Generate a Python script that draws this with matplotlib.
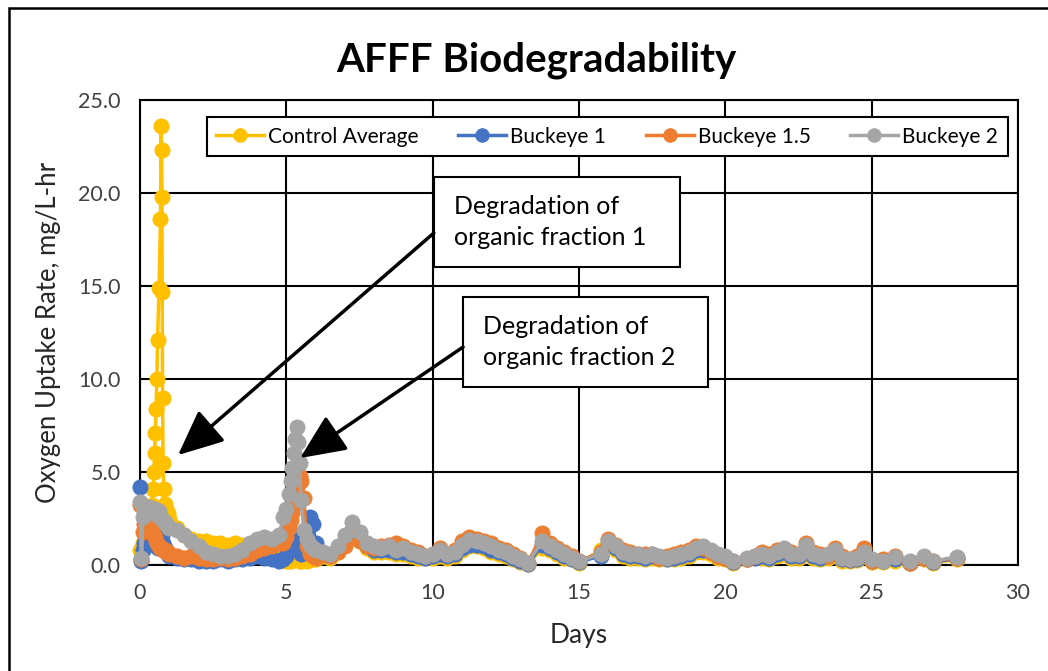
import matplotlib
matplotlib.use("Agg")
import matplotlib.pyplot as plt
from matplotlib.patches import Rectangle
from matplotlib.ticker import FuncFormatter

plt.rcParams['font.family'] = ['Lato', 'DejaVu Sans']

# ---------------- data ----------------
# sampling times (days) shared by the Buckeye series
days_early = [0, 0.05, 0.1, 0.15, 0.2, 0.25, 0.3, 0.35, 0.4, 0.45, 0.5,
              0.55, 0.6, 0.65, 0.7, 0.75, 0.8, 0.85, 0.9, 0.95, 1.0]
days_main = [1.25, 1.5, 1.75, 2.0, 2.25, 2.5, 2.75, 3.0, 3.25, 3.5, 3.75, 4.0, 4.25, 4.5, 4.75,
             4.9, 5.0, 5.1, 5.15, 5.2, 5.25, 5.3, 5.35, 5.4, 5.45, 5.5, 5.6, 5.7, 5.8, 5.9, 6.0,
             6.25, 6.5, 6.75, 7.0, 7.25, 7.5, 7.75, 8.0, 8.25, 8.5, 8.75, 9.0, 9.25, 9.5, 9.75, 10.0,
             10.25, 10.5, 10.75, 11.0, 11.25, 11.5, 11.75, 12.0, 12.25, 12.5, 12.75, 13.0, 13.25,
             13.75, 14.0, 14.25, 14.5, 14.75, 15.0,
             15.75, 16.0, 16.25, 16.5, 16.75, 17.0, 17.25, 17.5, 17.75, 18.0, 18.25, 18.5, 18.75,
             19.0, 19.25, 19.5, 19.75, 20.0, 20.25,
             20.75, 21.0, 21.25, 21.5, 21.75, 22.0, 22.25, 22.5, 22.75, 23.0, 23.25, 23.5, 23.75,
             24.0, 24.25, 24.5, 24.75, 25.0,
             25.4, 25.8, 26.3, 26.8, 27.1, 27.9]

# Control average is sampled more densely during its first-day spike
control_days_early = [0, 0.1, 0.2, 0.3, 0.4, 0.45, 0.475, 0.5, 0.525, 0.55, 0.575, 0.6, 0.65,
                      0.7, 0.72, 0.735, 0.75, 0.76, 0.77, 0.79, 0.81, 0.85, 0.9, 0.95, 1.0]
control_early = [0.8, 1.2, 2.0, 2.6, 3.2, 4.1, 5.0, 6.0, 7.1, 8.4, 10.0, 12.1, 14.9,
                 18.6, 23.6, 22.3, 19.8, 14.7, 9.0, 5.5, 4.1, 3.3, 3.0, 2.8, 2.5]
control_main = [2.0, 1.6, 1.4, 1.3, 1.3, 1.2, 1.2, 1.1, 1.2, 1.1, 1.0, 1.0, 0.9, 0.7, 0.5,
                0.3, 0.2, 0.2, 0.2, 0.3, 0.3, 0.4, 0.3, 0.3, 0.2, 0.2, 0.3, 0.2, 0.3, 0.3, 0.3,
                0.5, 0.4, 0.7, 1.2, 1.6, 1.3, 0.9, 0.7, 0.7, 0.7, 0.6, 0.6, 0.5, 0.4, 0.4, 0.4,
                0.5, 0.4, 0.5, 0.8, 1.0, 1.0, 0.9, 0.7, 0.6, 0.5, 0.3, 0.15, 0.05,
                0.9, 0.8, 0.6, 0.4, 0.3, 0.1,
                0.8, 1.0, 0.8, 0.5, 0.4, 0.4, 0.3, 0.4, 0.3, 0.3, 0.3, 0.4, 0.5, 0.7, 0.7, 0.6, 0.4, 0.3, 0.1,
                0.3, 0.45, 0.4, 0.3, 0.5, 0.6, 0.4, 0.4, 0.8, 0.4, 0.3, 0.4, 0.6, 0.2, 0.2, 0.25, 0.5, 0.15,
                0.15, 0.2, 0.1, 0.3, 0.1, 0.3]

buckeye1_early = [4.2, 0.2, 0.8, 1.2, 1.5, 1.7, 1.8, 1.9, 1.8, 1.5, 1.2,
                  1.0, 0.9, 1.8, 2.0, 1.6, 1.2, 0.9, 0.7, 0.6, 0.5]
buckeye1_main = [0.4, 0.3, 0.3, 0.2, 0.2, 0.2, 0.3, 0.2, 0.3, 0.3, 0.4, 0.5, 0.4, 0.3, 0.2,
                 0.3, 0.5, 0.8, 1.0, 1.2, 1.4, 1.5, 1.3, 1.0, 0.8, 0.6, 1.0, 1.6, 2.6, 2.2, 1.2,
                 0.6, 0.5, 0.8, 1.3, 1.9, 1.5, 1.0, 0.8, 0.8, 0.8, 0.7, 0.7, 0.6, 0.5, 0.4, 0.5,
                 0.6, 0.5, 0.6, 0.9, 1.1, 1.1, 1.0, 0.8, 0.7, 0.6, 0.4, 0.2, 0.05,
                 1.1, 0.9, 0.7, 0.5, 0.3, 0.15,
                 0.5, 1.1, 0.9, 0.6, 0.5, 0.5, 0.4, 0.5, 0.4, 0.3, 0.4, 0.5, 0.6, 0.8, 0.8, 0.7, 0.5, 0.4, 0.15,
                 0.3, 0.4, 0.5, 0.4, 0.6, 0.7, 0.5, 0.5, 0.9, 0.5, 0.4, 0.5, 0.7, 0.3, 0.25, 0.3, 0.6, 0.2,
                 0.2, 0.3, 0.1, 0.4, 0.15, 0.35]

buckeye15_early = [3.2, 0.3, 1.8, 2.2, 2.4, 2.5, 2.4, 2.2, 2.0, 1.7, 1.5,
                   1.3, 1.1, 1.0, 0.9, 0.9, 0.8, 0.8, 0.7, 0.7, 0.6]
buckeye15_main = [0.5, 0.4, 0.5, 0.4, 0.3, 0.3, 0.4, 0.3, 0.4, 0.5, 0.6, 0.8, 0.9, 1.0, 1.2,
                  1.2, 1.5, 2.0, 2.4, 2.8, 3.2, 3.6, 4.2, 4.6, 4.8, 4.5, 3.6, 1.0, 0.6, 0.5, 0.4,
                  0.6, 0.5, 0.7, 1.0, 1.5, 1.3, 1.0, 0.9, 1.0, 1.1, 1.2, 1.0, 0.8, 0.7, 0.5, 0.6,
                  0.9, 0.6, 0.8, 1.3, 1.5, 1.4, 1.3, 1.2, 0.9, 0.8, 0.6, 0.4, 0.1,
                  1.7, 1.2, 0.9, 0.7, 0.5, 0.2,
                  0.7, 1.4, 1.1, 0.8, 0.7, 0.6, 0.6, 0.6, 0.4, 0.5, 0.6, 0.7, 0.8, 1.0, 0.9, 0.7, 0.5, 0.4, 0.2,
                  0.3, 0.5, 0.7, 0.6, 0.8, 0.8, 0.7, 0.6, 1.2, 0.7, 0.6, 0.5, 0.9, 0.5, 0.3, 0.5, 0.9, 0.2,
                  0.3, 0.5, 0.1, 0.4, 0.2, 0.4]

buckeye2_early = [3.4, 0.4, 2.6, 2.9, 3.0, 2.8, 3.1, 2.9, 3.0, 2.8, 3.0,
                  2.9, 2.8, 2.9, 2.6, 2.5, 2.4, 2.3, 2.2, 2.1, 2.0]
buckeye2_main = [1.9, 1.6, 1.3, 1.0, 0.7, 0.6, 0.5, 0.5, 0.6, 0.8, 1.2, 1.4, 1.5, 1.4, 1.6,
                 2.6, 3.0, 3.8, 4.5, 5.2, 6.0, 6.8, 7.4, 6.6, 5.5, 3.5, 1.9, 1.4, 1.1, 0.9, 0.8,
                 0.7, 0.6, 1.0, 1.6, 2.3, 1.8, 1.2, 1.0, 0.9, 1.0, 0.8, 0.9, 0.7, 0.6, 0.5, 0.6,
                 0.8, 0.6, 0.7, 1.1, 1.35, 1.3, 1.2, 1.0, 0.8, 0.7, 0.5, 0.3, 0.1,
                 1.3, 1.0, 0.8, 0.6, 0.4, 0.2,
                 0.6, 1.3, 1.0, 0.7, 0.6, 0.6, 0.5, 0.6, 0.5, 0.4, 0.5, 0.6, 0.7, 0.9, 1.0, 0.8, 0.6, 0.5, 0.2,
                 0.4, 0.5, 0.6, 0.5, 0.7, 0.9, 0.6, 0.6, 1.1, 0.6, 0.5, 0.6, 0.8, 0.4, 0.3, 0.4, 0.7, 0.3,
                 0.2, 0.45, 0.2, 0.5, 0.2, 0.45]

series_names = ["Control Average", "Buckeye 1", "Buckeye 1.5", "Buckeye 2"]
series_colors = ["#FFC000", "#4472C4", "#ED7D31", "#A5A5A5"]

x_ticks = [0, 5, 10, 15, 20, 25, 30]
y_ticks = [0, 5, 10, 15, 20, 25]

# ---------------- figure ----------------
W, H = 1048, 671
fig = plt.figure(figsize=(W / 100, H / 100), dpi=100)
ax = fig.add_axes([140 / W, 1 - 565 / H, (1018 - 140) / W, (565 - 100) / H])

series_x = [control_days_early + days_main,
            days_early + days_main,
            days_early + days_main,
            days_early + days_main]
series_y = [control_early + control_main,
            buckeye1_early + buckeye1_main,
            buckeye15_early + buckeye15_main,
            buckeye2_early + buckeye2_main]

for i, (xs, ys, name, col) in enumerate(zip(series_x, series_y, series_names, series_colors)):
    assert len(xs) == len(ys), (name, len(xs), len(ys))
    ax.plot(xs, ys, '-o', color=col, lw=2.5, ms=11, mec=col, mew=0.5, label=name,
            zorder=3 + i * 0.1, clip_on=False)

ax.set_xlim(0, 30)
ax.set_ylim(0, 25)
ax.set_xticks(x_ticks)
ax.set_yticks(y_ticks)
ax.yaxis.set_major_formatter(FuncFormatter(lambda v, p: f"{v:.1f}"))
ax.grid(True, color='black', lw=1.5, zorder=1)
ax.set_axisbelow(True)
for s in ax.spines.values():
    s.set_color('black')
    s.set_linewidth(1.5)
ax.tick_params(length=0, labelsize=15.5, colors='#404040')
ax.tick_params(axis='x', pad=13)
ax.tick_params(axis='y', pad=14)

ax.set_xlabel("Days", fontsize=19, labelpad=14, color='#262626')
ax.set_ylabel("Oxygen Uptake Rate, mg/L-hr", fontsize=18.5, labelpad=12, color='#262626')

fig.text(0.512, 1 - 60 / H, "AFFF Biodegradability", ha='center', va='center',
         fontsize=29, fontweight='bold')

leg = ax.legend(loc='upper center', bbox_to_anchor=(0.532, 0.963), borderaxespad=0,
                ncol=4, fontsize=15, frameon=True, fancybox=False, framealpha=1,
                edgecolor='black', handlelength=2.3, borderpad=0.45, handletextpad=0.2,
                columnspacing=1.9, markerscale=0.9)
leg.get_frame().set_linewidth(1.5)
leg.set_zorder(10)

# annotation boxes and arrows
boxes = [((10.04, 16.02), 8.41, 4.84, "Degradation of\norganic fraction 1", (10.73, 18.44)),
         ((11.04, 9.57), 8.37, 4.84, "Degradation of\norganic fraction 2", (11.72, 11.99))]
for (xy, w, h, txt, tpos) in boxes:
    ax.add_patch(Rectangle(xy, w, h, fc='white', ec='black', lw=1.5, zorder=8))
    ax.text(tpos[0], tpos[1], txt, ha='left', va='center', fontsize=18,
            linespacing=1.45, zorder=9)

arrows = [((1.30, 5.91), (10.04, 17.85)), ((5.47, 5.75), (11.04, 11.72))]
for tip, tail in arrows:
    ax.annotate('', xy=tip, xytext=tail,
                arrowprops=dict(arrowstyle='-|>,head_length=1.0,head_width=0.45',
                                mutation_scale=28, lw=2.5, color='black',
                                shrinkA=0, shrinkB=0), zorder=9)

# outer chart border
fig.add_artist(Rectangle((9 / W, -0.1), 1.2, 1 - 8 / H + 0.1, transform=fig.transFigure,
                         fill=False, ec='black', lw=1.8))

fig.savefig("out.png", dpi=100)
